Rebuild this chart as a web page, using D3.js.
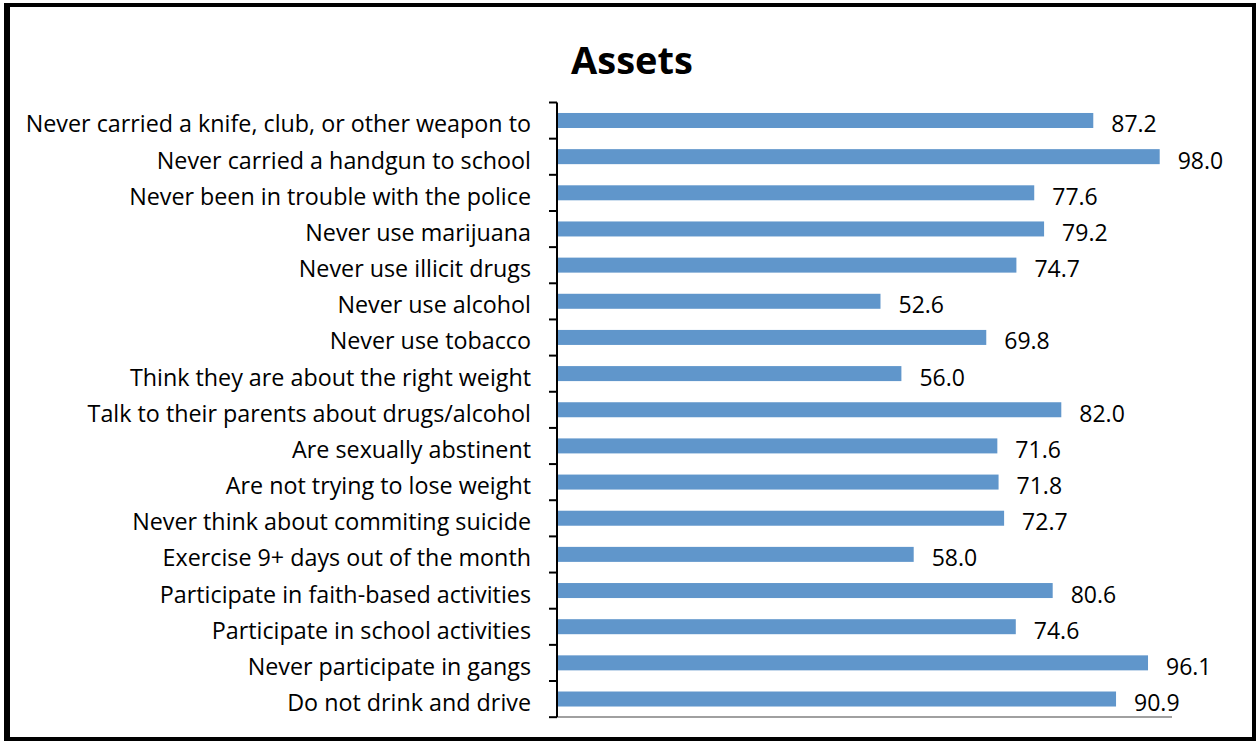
<!DOCTYPE html>
<html>
<head>
<meta charset="utf-8">
<script src="https://cdn.jsdelivr.net/npm/d3@7"></script>
<style>
  body { margin: 0; background: #fff; }
  text { font-family: "Open Sans", sans-serif; fill: #000; }
</style>
</head>
<body>
<script>
// chart data, top to bottom as shown
var categories = [
  "Never carried a knife, club, or other weapon to",
  "Never carried a handgun to school",
  "Never been in trouble with the police",
  "Never use marijuana",
  "Never use illicit drugs",
  "Never use alcohol",
  "Never use tobacco",
  "Think they are about the right weight",
  "Talk to their parents about drugs/alcohol",
  "Are sexually abstinent",
  "Are not trying to lose weight",
  "Never think about commiting suicide",
  "Exercise 9+ days out of the month",
  "Participate in faith-based activities",
  "Participate in school activities",
  "Never participate in gangs",
  "Do not drink and drive"
];
var values = [87.2, 98.0, 77.6, 79.2, 74.7, 52.6, 69.8, 56.0, 82.0, 71.6, 71.8, 72.7, 58.0, 80.6, 74.6, 96.1, 90.9];
var title = "Assets";

var width = 1258,
    height = 744;

var svg = d3.select("body").append("svg")
    .attr("width", width)
    .attr("height", height);

// outer frame
svg.append("rect")
    .attr("x", 7).attr("y", 5)
    .attr("width", 1247).attr("height", 734)
    .attr("fill", "none")
    .attr("stroke", "#000")
    .attr("stroke-width", 4);
svg.append("line")
    .attr("x1", 7).attr("x2", 7).attr("y1", 3).attr("y2", 741)
    .attr("stroke", "#000").attr("stroke-width", 6);

var plotLeft = 557, plotRight = 1172, plotTop = 102.5, plotBottom = 717;

var x = d3.scaleLinear().domain([0, 100]).range([plotLeft, plotRight]);
var y = d3.scaleBand().domain(categories).range([plotTop, plotBottom]).paddingInner(0.585).paddingOuter(0.29);

svg.append("text")
    .attr("x", 632).attr("y", 74)
    .attr("text-anchor", "middle")
    .style("font-size", "38px")
    .style("font-weight", "bold")
    .text(title);

// bottom axis line (gray)
svg.append("line")
    .attr("x1", plotLeft).attr("x2", plotRight)
    .attr("y1", plotBottom).attr("y2", plotBottom)
    .attr("stroke", "#a0a0a0").attr("stroke-width", 2);

// bars
svg.selectAll(".bar")
    .data(values)
    .enter().append("rect")
    .attr("class", "bar")
    .attr("x", plotLeft)
    .attr("y", function(d, i) { return y(categories[i]); })
    .attr("width", function(d) { return x(d) - plotLeft; })
    .attr("height", y.bandwidth())
    .attr("fill", "#6096cb");

// value labels
svg.selectAll(".val")
    .data(values)
    .enter().append("text")
    .attr("class", "val")
    .attr("x", function(d) { return x(d) + 18; })
    .attr("y", function(d, i) { return y(categories[i]) + y.bandwidth() / 2 + 12; })
    .style("font-size", "23px")
    .text(function(d) { return d.toFixed(1); });

// left axis with ticks between categories
var yAxis = svg.append("g").attr("transform", "translate(" + plotLeft + ",0)");
yAxis.append("line")
    .attr("x1", 0).attr("x2", 0).attr("y1", plotTop).attr("y2", plotBottom)
    .attr("stroke", "#000").attr("stroke-width", 2);
var tickYs = d3.range(categories.length + 1).map(function(i) { return plotTop + i * y.step(); });
yAxis.selectAll(".tk")
    .data(tickYs)
    .enter().append("line")
    .attr("x1", -8).attr("x2", 0)
    .attr("y1", function(d) { return d; }).attr("y2", function(d) { return d; })
    .attr("stroke", "#000").attr("stroke-width", 2);

yAxis.selectAll(".lbl")
    .data(categories)
    .enter().append("text")
    .attr("x", -26)
    .attr("y", function(d) { return y(d) + y.bandwidth() / 2 + 12; })
    .attr("text-anchor", "end")
    .style("font-size", "23.3px")
    .text(function(d) { return d; });
</script>
</body>
</html>
